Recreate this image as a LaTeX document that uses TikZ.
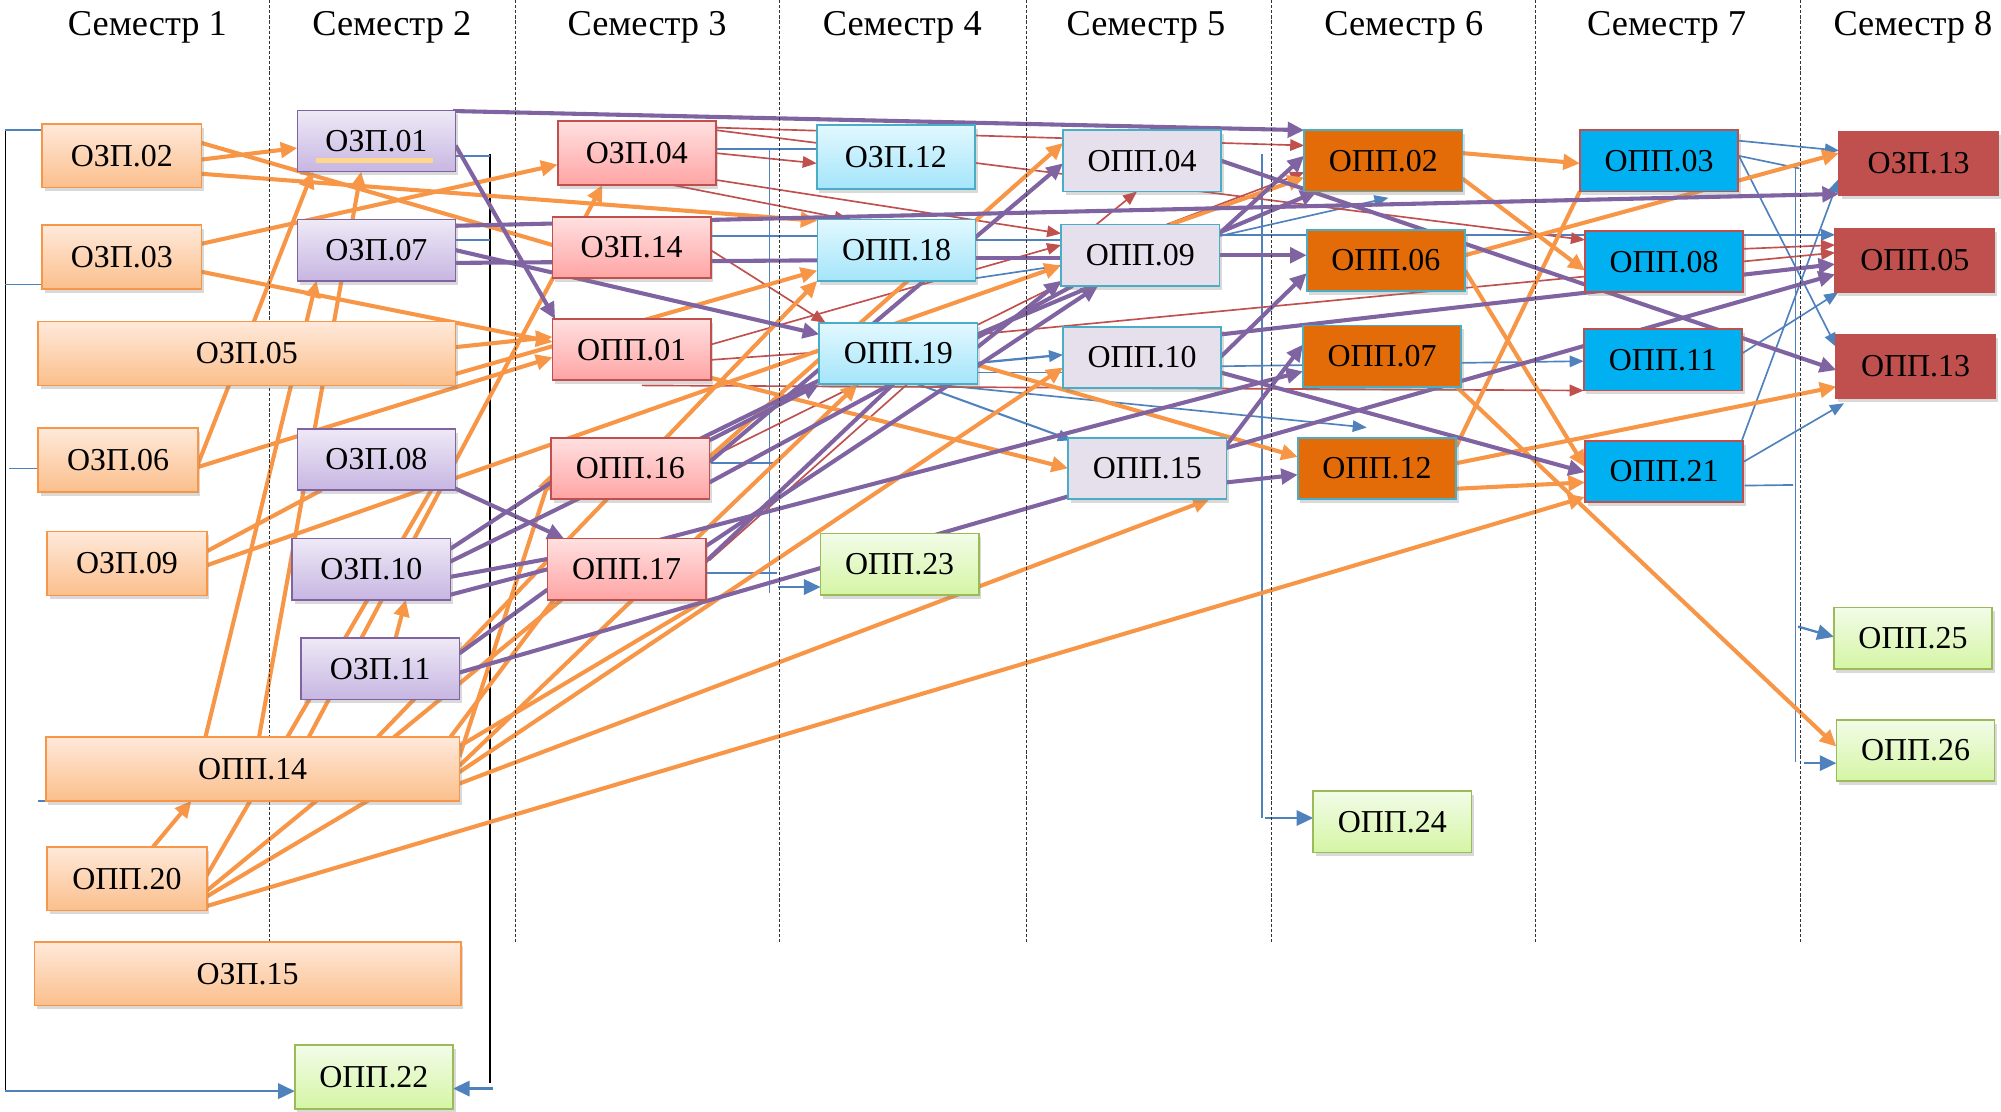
\documentclass[tikz,border=0pt]{standalone}
\usepackage{fontspec}
\setmainfont{Liberation Serif}
\usetikzlibrary{calc,arrows.meta,shadows}
\definecolor{cOr}{HTML}{F79646}
\definecolor{cPu}{HTML}{8064A2}
\definecolor{cRd}{HTML}{C0504D}
\definecolor{cBl}{HTML}{4F81BD}
\definecolor{cCy}{HTML}{4BACC6}
\definecolor{cGr}{HTML}{9BBB59}
\definecolor{fOrT}{HTML}{FFE9DA}
\definecolor{fOrB}{HTML}{FBBF8C}
\definecolor{fPuT}{HTML}{EEE9F6}
\definecolor{fPuB}{HTML}{C7B6E2}
\definecolor{fPkT}{HTML}{FFE0E0}
\definecolor{fPkB}{HTML}{FFA4A4}
\definecolor{fCyT}{HTML}{E2F8FF}
\definecolor{fCyB}{HTML}{A4E5FA}
\definecolor{fLv}{HTML}{E5E0EC}
\definecolor{fDo}{HTML}{E36C09}
\definecolor{fBu}{HTML}{00B0F0}
\definecolor{fRe}{HTML}{C0504D}
\definecolor{fGrT}{HTML}{F2FCE8}
\definecolor{fGrB}{HTML}{D5F5A4}
\definecolor{fYe}{HTML}{FFD68A}
\pgfdeclarelayer{bg}
\pgfsetlayers{bg,main}
\tikzset{
  nbox/.style={draw,line width=1.3pt,minimum width=124pt,minimum height=48pt,inner sep=0pt,
    font=\fontsize{25}{26}\selectfont,
    drop shadow={shadow xshift=2pt,shadow yshift=-3pt,opacity=0.3}},
  nSa/.style={nbox,draw=cOr,top color=fOrT,bottom color=fOrB,minimum width=125pt,minimum height=50pt},
  nSb/.style={nbox,draw=cPu,top color=fPuT,bottom color=fPuB},
  nSc/.style={nbox,draw=cRd,top color=fPkT,bottom color=fPkB},
  nCy/.style={nbox,draw=cCy,top color=fCyT,bottom color=fCyB},
  nLv/.style={nbox,draw=cCy,fill=fLv},
  nDo/.style={nbox,draw=cCy,fill=fDo},
  nBu/.style={nbox,draw=cRd,fill=fBu},
  nRe/.style={nbox,draw=cRd,fill=fRe,minimum width=125pt,minimum height=50pt},
  nGr/.style={nbox,draw=cGr,top color=fGrT,bottom color=fGrB},
  hdr/.style={anchor=base,font=\fontsize{28.5}{30}\selectfont},
  sep/.style={line width=0.6pt,draw=black!80,dash pattern=on 2.5pt off 1.5pt},
  edO/.style={draw=cOr,line width=3.2pt},
  edP/.style={draw=cPu,line width=3.2pt},
  edR/.style={draw=cRd,line width=1.3pt},
  edB/.style={draw=cBl,line width=1.3pt},
  edK/.style={draw=black,line width=0.9pt},
  tipT/.style={-{Triangle[length=13pt,width=12pt]}},
  tipS/.style={-{Triangle[length=11pt,width=9pt]}},
}
\begin{document}
\begin{tikzpicture}[x=1pt,y=-1pt]
\useasboundingbox (0,0) rectangle (1568,871);
% semester separators
\foreach \xx in {211,404,611,804,996,1203,1411}{\draw[sep] (\xx,0) -- (\xx,740);}
% headers
\node[hdr] (h1) at (115.5,28) {Семестр 1};
\node[hdr] (h2) at (307,28) {Семестр 2};
\node[hdr] (h3) at (507,28) {Семестр 3};
\node[hdr] (h4) at (707,28) {Семестр 4};
\node[hdr] (h5) at (898,28) {Семестр 5};
\node[hdr] (h6) at (1100,28) {Семестр 6};
\node[hdr] (h7) at (1306,28) {Семестр 7};
\node[hdr] (h8) at (1499,28) {Семестр 8};
% semester 1
\node[nSa] (ozp02) at (95.5,122) {ОЗП.02};
\node[nSa] (ozp03) at (95.5,201.5) {ОЗП.03};
\node[nSa,minimum width=327pt] (ozp05) at (193.5,277) {ОЗП.05};
\node[nSa] (ozp06) at (92.5,360.5) {ОЗП.06};
\node[nSa] (ozp09) at (99.5,441.5) {ОЗП.09};
\node[nSa,minimum width=324pt] (opp14) at (198,602.5) {ОПП.14};
\node[nSa] (opp20) at (99.5,688.5) {ОПП.20};
\node[nSa,minimum width=334pt] (ozp15) at (194,763) {ОЗП.15};
% semester 2
\node[nSb] (ozp01) at (295,110.5) {ОЗП.01};
\node[nSb] (ozp07) at (295,196) {ОЗП.07};
\node[nSb] (ozp08) at (295,360) {ОЗП.08};
\node[nSb] (ozp10) at (291,446) {ОЗП.10};
\node[nSb] (ozp11) at (298,524) {ОЗП.11};
\node[nGr,minimum height=50pt] (opp22) at (293,844) {ОПП.22};
% semester 3
\node[nSc,minimum height=50pt] (ozp04) at (499,120) {ОЗП.04};
\node[nSc] (ozp14) at (495,194) {ОЗП.14};
\node[nSc] (opp01) at (495,274) {ОПП.01};
\node[nSc] (opp16) at (494,367) {ОПП.16};
\node[nSc] (opp17) at (491,446) {ОПП.17};
% semester 4
\node[nCy,minimum height=50pt] (ozp12) at (702,123) {ОЗП.12};
\node[nCy] (opp18) at (702.5,196) {ОПП.18};
\node[nCy] (opp19) at (704,277) {ОПП.19};
\node[nGr] (opp23) at (705,442) {ОПП.23};
% semester 5
\node[nLv] (opp04) at (895,126) {ОПП.04};
\node[nLv] (opp09) at (893.5,200) {ОПП.09};
\node[nLv] (opp10) at (895,280) {ОПП.10};
\node[nLv] (opp15) at (899,367) {ОПП.15};
% semester 6
\node[nDo] (opp02) at (1084,126) {ОПП.02};
\node[nDo] (opp06) at (1086,204) {ОПП.06};
\node[nDo] (opp07) at (1083,279) {ОПП.07};
\node[nDo] (opp12) at (1079,367) {ОПП.12};
\node[nGr] (opp24) at (1091,644) {ОПП.24};
% semester 7
\node[nBu] (opp03) at (1300,126) {ОПП.03};
\node[nBu] (opp08) at (1304,205) {ОПП.08};
\node[nBu] (opp11) at (1303,282) {ОПП.11};
\node[nBu] (opp21) at (1304,369.5) {ОПП.21};
% semester 8
\node[nRe] (ozp13) at (1503.5,128) {ОЗП.13};
\node[nRe] (opp05) at (1500.5,204) {ОПП.05};
\node[nRe] (opp13) at (1501,287) {ОПП.13};
\node[nGr] (opp25) at (1499,500) {ОПП.25};
\node[nGr] (opp26) at (1501,588) {ОПП.26};
\fill[fYe] ($(ozp01)+(-47,13.5)$) rectangle ($(ozp01)+(44,17)$);
% bracket coordinates
\coordinate (lt) at (4,102);
\coordinate (lm) at (4,223);
\coordinate (lmm) at (7,367);
\coordinate (lb) at (4,855);
\coordinate (rt) at (384,121);
\coordinate (rta) at (384,122);
\coordinate (rtb) at (384,188);
\coordinate (rb) at (384,849);
\coordinate (rba) at (386,853);
\coordinate (v3t) at (603,117);
\coordinate (v3b) at (603,465);
\coordinate (v3a) at (607,363);
\coordinate (v3c) at (609,449);
\coordinate (v3d) at (610,460);
\coordinate (v5t) at (989,121);
\coordinate (v5b) at (989,641);
\coordinate (v5a) at (991,641);
\coordinate (v7t) at (1407,129);
\coordinate (v7b) at (1407,597);
\coordinate (v7a) at (1410,132);
\coordinate (v7c) at (1405,380);
\coordinate (v7d) at (1409,491);
\coordinate (v7e) at (1414,598);
\begin{pgfonlayer}{bg}
% ---------- blue & black brackets
\draw[edK] (lt) -- (lb);
\draw[edB] (lt) -- ($(ozp02)+(-62.5,-20)$);
\draw[edB] (lm) -- ($(ozp03)+(-62.5,21.5)$);
\draw[edB] (lmm) -- ($(ozp06)+(-62.5,6.5)$);
\draw[edB] ($(opp14)+(-168,25)$) -- ($(opp14)+(-162,25)$);
\draw[edB,line width=1.8pt,tipT] (lb) -- ($(opp22)+(-62,11)$);
\draw[edK] (rt) -- (rb);
\draw[edB] ($(ozp01)+(62,11.5)$) -- (rta);
\draw[edB] ($(ozp07)+(62,-8)$) -- (rtb);
\draw[edB,line width=1.8pt,tipT] (rba) -- ($(opp22)+(62,9)$);
\draw[edB] (v3t) -- (v3b);
\draw[edB] ($(ozp04)+(62,-3)$) -- ($(ozp12)+(-62,-6)$);
\draw[edB] ($(ozp14)+(62,-9)$) -- ($(opp18)+(-62,-11)$);
\draw[edB] ($(opp16)+(63,-4)$) -- (v3a);
\draw[edB] ($(opp17)+(63,3)$) -- (v3c);
\draw[edB,line width=1.8pt,tipT] (v3d) -- ($(opp23)+(-62,18)$);
\draw[edB] (v5t) -- (v5b);
\draw[edB,line width=1.8pt,tipT] (v5a) -- ($(opp24)+(-62,-3)$);
\draw[edB] (v7t) -- (v7b);
\draw[edB] ($(opp03)+(62,-4)$) -- (v7a);
\draw[edB] ($(opp21)+(63,11)$) -- (v7c);
\draw[edB,line width=1.8pt,tipT] (v7d) -- ($(opp25)+(-62,-1)$);
\draw[edB,line width=1.8pt,tipT] (v7e) -- ($(opp26)+(-62,10)$);
% ---------- blue connectors
\draw[edB,line width=1.8pt,tipS] ($(opp19)+(55,8)$) -- ($(opp10)+(-62,-2)$);
\draw[edB] ($(opp19)+(62,15)$) -- ($(opp10)+(-62,12)$);
\draw[edB,line width=1.6pt,tipS] ($(opp19)+(15,24)$) -- ($(opp15)+(-59,-22)$);
\draw[edB,tipS] ($(opp19)+(26,24)$) -- ($(opp12)+(-8,-32)$);
\draw[edB] ($(opp18)+(62,-8)$) -- ($(opp09)+(-62,-12)$);
\draw[edB] ($(opp18)+(62,22)$) -- ($(opp09)+(-62,8)$);
\draw[edB,tipS] ($(opp09)+(62,-15)$) -- ($(opp02)+(4,29)$);
\draw[edB,tipS] ($(opp09)+(62,-16)$) -- ($(opp05)+(-62.5,-20)$);
\draw[edB,tipS] ($(opp10)+(62,7)$) -- ($(opp11)+(-62,1)$);
\draw[edB,tipS] ($(opp03)+(60,-16)$) -- ($(ozp13)+(-62.5,-10)$);
\draw[edB,tipS] ($(opp03)+(62,-5)$) -- ($(opp13)+(-62,-15)$);
\draw[edB,tipS] ($(opp11)+(62,-5)$) -- ($(opp05)+(-60,25)$);
\draw[edB,tipS] ($(opp21)+(62,-7.5)$) -- ($(opp13)+(-56,29)$);
\draw[edB,tipS] ($(opp21)+(61,-24.5)$) -- ($(ozp13)+(-62.5,12)$);
% ---------- red connectors
\draw[edR,tipS] ($(ozp04)+(62,-20)$) -- ($(opp02)+(-62,-12)$);
\draw[edR,tipS] ($(ozp04)+(62,-18)$) -- ($(opp08)+(-62,-17)$);
\draw[edR,tipS] ($(ozp04)+(62,0)$) -- ($(ozp12)+(-62,5)$);
\draw[edR,tipS] ($(ozp04)+(28,25)$) -- ($(opp18)+(-37.5,-24)$);
\draw[edR,tipS] ($(ozp04)+(62,21)$) -- ($(opp09)+(-62,-17)$);
\draw[edR,tipS] ($(ozp14)+(62,2)$) -- ($(opp19)+(-57,-24)$);
\draw[edR,tipS] ($(opp01)+(62,-4)$) -- ($(opp09)+(-62,-8)$);
\draw[edR] ($(opp01)+(62,8)$) -- ($(opp19)+(-62,-1)$);
\draw[edR,tipS] ($(opp01)+(8,28)$) -- ($(opp11)+(-62,24)$);
\draw[edR,tipS] ($(opp16)+(62,-8)$) -- ($(opp09)+(-62,22)$);
\draw[edR] ($(opp17)+(65,-7)$) -- ($(opp19)+(7,24)$);
\draw[edR,tipS] ($(opp09)+(-34.5,-24)$) -- ($(opp04)+(-4,24)$);
\draw[edR,tipS] ($(opp09)+(20.5,-24)$) -- ($(opp02)+(-62,9)$);
\draw[edR,tipS] ($(opp19)+(62,-15)$) -- ($(opp05)+(-62.5,-6)$);
\draw[edR,tipS] ($(opp08)+(62,-10)$) -- ($(opp05)+(-62.5,-12)$);
% ---------- orange connectors
\draw[edO,tipT] ($(ozp02)+(62.5,3)$) -- ($(ozp01)+(-62,5.5)$);
\draw[edO] ($(ozp02)+(62.5,-10)$) -- ($(ozp14)+(-62,-2)$);
\draw[edO,tipT] ($(ozp02)+(60,14)$) -- ($(opp18)+(-62,-23)$);
\draw[edO,tipT] ($(ozp03)+(62.5,-10.5)$) -- ($(ozp04)+(-62,9)$);
\draw[edO,tipT] ($(ozp03)+(62.5,11.5)$) -- ($(opp01)+(-62,-6)$);
\draw[edO,tipT] ($(ozp05)+(163.5,-5)$) -- ($(opp01)+(-62,-10)$);
\draw[edO,tipT] ($(ozp06)+(62.5,3.5)$) -- ($(ozp01)+(-50,24)$);
\draw[edO,tipT] ($(ozp06)+(62.5,5.5)$) -- ($(opp01)+(-62,6)$);
\draw[edO,tipT] ($(ozp09)+(62.5,1.5)$) -- ($(opp09)+(-62,8)$);
\draw[edO] ($(ozp09)+(62.5,-9.5)$) -- ($(ozp08)+(-43,24)$);
\draw[edO,tipT] ($(ozp05)+(163.5,16)$) -- ($(opp18)+(-62,16)$);
\draw[edO,tipT] ($(opp14)+(-37,-25)$) -- ($(ozp07)+(-47,24)$);
\draw[edO,tipT] ($(opp14)+(5,-25)$) -- ($(ozp01)+(-12,24)$);
\draw[edO,tipT] ($(opp14)+(44,-25)$) -- ($(ozp04)+(-27,25)$);
\draw[edO,tipT] ($(opp20)+(20.5,-25)$) -- ($(opp14)+(-48,25)$);
\draw[edO] ($(opp20)+(62.5,-2.5)$) -- ($(ozp08)+(43,24)$);
\draw[edO] ($(opp20)+(62.5,9.5)$) -- ($(opp17)+(-51,24)$);
\draw[edO] ($(opp20)+(62.5,14)$) -- ($(opp17)+(62,24)$);
\draw[edO,tipT] ($(opp20)+(62.5,21.5)$) -- ($(opp21)+(-62,20)$);
\draw[edO,tipT] ($(opp14)+(162,11.5)$) -- ($(opp15)+(49,24)$);
\draw[edO,tipT] ($(opp14)+(162,-9.5)$) -- ($(opp16)+(-62,4)$);
\draw[edO,tipT] ($(opp14)+(162,-2.5)$) -- ($(opp19)+(-32,24)$);
\draw[edO,tipT] ($(opp14)+(98,-25)$) -- ($(opp18)+(-62,24)$);
\draw[edO,tipT] ($(opp14)+(162,2.5)$) -- ($(opp10)+(-62,8)$);
\draw[edO,tipT] ($(opp16)+(62,-9)$) -- ($(opp04)+(-62,-14)$);
\draw[edO,tipT] ($(opp09)+(23.5,-24)$) -- ($(opp02)+(-62,13)$);
\draw[edO,tipT] ($(opp01)+(62,22)$) -- ($(opp15)+(-62,0)$);
\draw[edO,tipT] ($(opp19)+(62,9)$) -- ($(opp12)+(-62,-9)$);
\draw[edO,tipT] ($(opp02)+(62,-6)$) -- ($(opp03)+(-62,2)$);
\draw[edO,tipT] ($(opp02)+(62,14)$) -- ($(opp08)+(-62,7)$);
\draw[edO,tipT] ($(opp06)+(62,-4)$) -- ($(ozp13)+(-62.5,-8)$);
\draw[edO,tipT] ($(opp06)+(62,8)$) -- ($(opp21)+(-62,-3.5)$);
\draw[edO,tipT] ($(opp07)+(55,21)$) -- ($(opp26)+(-62,-3)$);
\draw[edO] ($(opp12)+(62,-17)$) -- ($(opp03)+(-62,24)$);
\draw[edO,tipT] ($(opp12)+(62,-4)$) -- ($(opp13)+(-62,16)$);
\draw[edO,tipT] ($(opp12)+(62,16)$) -- ($(opp21)+(-62,8.5)$);
\draw[edO] ($(opp14)+(155,-25)$) -- ($(opp17)+(-57,24)$);
\draw[edO,tipT] ($(ozp11)+(12,-24)$) -- ($(ozp10)+(27,24)$);
% ---------- purple connectors
\draw[edP,tipT] ($(ozp01)+(60,-23.5)$) -- ($(opp02)+(-62,-24)$);
\draw[edP,tipT] ($(ozp01)+(62,3.5)$) -- ($(opp01)+(-60,-24)$);
\draw[edP,tipT] ($(ozp07)+(58,-19)$) -- ($(ozp13)+(-62.5,24)$);
\draw[edP,tipT] ($(ozp07)+(62,0)$) -- ($(opp19)+(-62,-15)$);
\draw[edP] ($(ozp07)+(62,10)$) -- ($(opp18)+(-62,8)$);
\draw[edP] ($(opp18)+(62,6)$) -- ($(opp09)+(-62,2)$);
\draw[edP,tipT] ($(opp09)+(62,0)$) -- ($(opp06)+(-62,-4)$);
\draw[edP,tipT] ($(ozp08)+(60,22)$) -- ($(opp17)+(-49,-24)$);
\draw[edP] ($(ozp10)+(62,-16)$) -- ($(opp16)+(-62,11)$);
\draw[edP] ($(ozp10)+(62,-6)$) -- ($(opp19)+(-62,21)$);
\draw[edP] ($(ozp10)+(62,6)$) -- ($(opp17)+(-62,-8)$);
\draw[edP,tipT] ($(ozp10)+(62,20)$) -- ($(opp07)+(-62,12)$);
\draw[edP] ($(ozp11)+(62,-12)$) -- ($(opp17)+(-62,16)$);
\draw[edP] ($(ozp11)+(62,3)$) -- ($(opp15)+(-62,22)$);
\draw[edP,tipT] ($(opp16)+(62,-22)$) -- ($(opp19)+(-62,24)$);
\draw[edP,tipT] ($(opp16)+(62,-5)$) -- ($(opp04)+(-62,2)$);
\draw[edP,tipT] ($(opp17)+(62,-18)$) -- ($(opp09)+(-33,24)$);
\draw[edP] ($(opp16)+(62,11)$) -- ($(opp09)+(-53,24)$);
\draw[edP] ($(opp17)+(62,-6)$) -- ($(opp19)+(-4,24)$);
\draw[edP,tipT] ($(opp19)+(62,-15)$) -- ($(opp02)+(-52,24)$);
\draw[edP,tipT] ($(opp19)+(62,-5)$) -- ($(opp09)+(-62,20)$);
\draw[edP,tipT] ($(opp09)+(62,-17)$) -- ($(opp02)+(-62,-4)$);
\draw[edP,tipT] ($(opp04)+(62,0)$) -- ($(opp13)+(-62,3)$);
\draw[edP,tipT] ($(opp10)+(56,5)$) -- ($(opp06)+(-62,10)$);
\draw[edP,tipT] ($(opp10)+(62,-18)$) -- ($(opp05)+(-62.5,3)$);
\draw[edP,tipT] ($(opp10)+(62,12)$) -- ($(opp21)+(-62,0.5)$);
\draw[edP,tipT] ($(opp15)+(59,-14)$) -- ($(opp07)+(-62,-9)$);
\draw[edP,tipT] ($(opp15)+(62,11)$) -- ($(opp12)+(-62,5)$);
\draw[edP,tipT] ($(opp15)+(62,-16)$) -- ($(opp05)+(-62.5,11)$);
\end{pgfonlayer}
\end{tikzpicture}
\end{document}
